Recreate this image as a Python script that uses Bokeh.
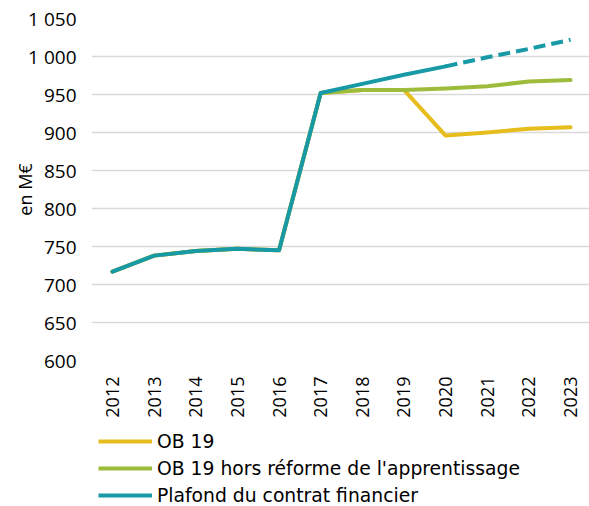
from bokeh.plotting import figure
from bokeh.models import Range1d, FixedTicker, Legend, LegendItem
from bokeh.layouts import column
from bokeh.embed import file_html
from bokeh.resources import INLINE

years = [2012, 2013, 2014, 2015, 2016, 2017, 2018, 2019, 2020, 2021, 2022, 2023]
ob19 = [717, 738, 744, 747, 745, 952, 956, 956, 896, 900, 905, 907]
ob19_hors = [717, 738, 744, 747, 745, 952, 956, 956, 958, 961, 967, 969]
plafond_years = [2012, 2013, 2014, 2015, 2016, 2017, 2018, 2019, 2020]
plafond = [717, 738, 744, 747, 745, 952, 964, 976, 987]
plafond_proj_years = [2020, 2021, 2022, 2023]
plafond_proj = [987, 999, 1010, 1022]
y_ticks = [600, 650, 700, 750, 800, 850, 900, 950, 1000, 1050]
y_tick_labels = ["600", "650", "700", "750", "800", "850", "900", "950", "1 000", "1 050"]
legend_labels = ["OB 19", "OB 19 hors réforme de l'apprentissage", "Plafond du contrat financier"]

YELLOW = "#E6BD1C"
GREEN = "#9DBC3B"
TEAL = "#1799A6"
TICK_FONT = "Open Sans"
LEG_FONT = "DejaVu Sans"
LW = 4

p = figure(width=589, height=420, output_backend="svg", toolbar_location=None,
           x_range=Range1d(2011.496, 2023.456), y_range=Range1d(600, 1050),
           min_border_left=91, min_border_right=0, min_border_top=18, min_border_bottom=59)
p.outline_line_color = None
p.background_fill_color = "white"

p.line(years, ob19, line_color=YELLOW, line_width=LW, line_join="round", line_cap="round")
p.line(years, ob19_hors, line_color=GREEN, line_width=LW, line_join="round", line_cap="round")
p.line(plafond_years, plafond, line_color=TEAL, line_width=LW, line_join="round", line_cap="round")
p.line(plafond_proj_years, plafond_proj, line_color=TEAL, line_width=LW, line_dash="12 6")

p.xaxis.ticker = FixedTicker(ticks=years)
p.xaxis.major_label_orientation = 1.5708
p.xaxis.major_label_text_font = TICK_FONT
p.xaxis.major_label_text_font_size = "18px"
p.xaxis.major_label_text_color = "#000000"
p.xaxis.major_tick_out = 0
p.xaxis.major_tick_in = 0
p.xaxis.major_label_standoff = 16
p.xaxis.axis_line_color = None
p.xaxis.major_tick_line_color = None
p.xaxis.minor_tick_line_color = None

p.yaxis.ticker = FixedTicker(ticks=y_ticks)
p.yaxis.major_label_overrides = {t: l for t, l in zip(y_ticks, y_tick_labels)}
p.yaxis.major_label_text_font = TICK_FONT
p.yaxis.major_label_text_font_size = "19px"
p.yaxis.major_label_text_color = "#000000"
p.yaxis.major_tick_out = 0
p.yaxis.major_tick_in = 0
p.yaxis.major_label_standoff = 15
p.yaxis.axis_line_color = None
p.yaxis.major_tick_line_color = None
p.yaxis.minor_tick_line_color = None
p.yaxis.axis_label = "en M€"
p.yaxis.axis_label_text_font = TICK_FONT
p.yaxis.axis_label_text_font_size = "18px"
p.yaxis.axis_label_text_font_style = "normal"
p.yaxis.axis_label_text_color = "#000000"
p.yaxis.axis_label_standoff = -12

p.xgrid.grid_line_color = None
p.ygrid.grid_line_color = "#D9D9D9"
p.ygrid.grid_line_width = 1.5

# legend panel: series lines drawn off-view, only their legend entries show
lg = figure(width=589, height=86, output_backend="svg", toolbar_location=None,
            x_range=Range1d(0, 1), y_range=Range1d(0, 1),
            min_border_left=91, min_border_right=0, min_border_top=0, min_border_bottom=0)
lg.axis.visible = False
lg.grid.visible = False
lg.outline_line_color = None
series = [ob19, ob19_hors, plafond]
series_x = [years, years, plafond_years]
colors = [YELLOW, GREEN, TEAL]
items = []
for lab, col, xs, ys in zip(legend_labels, colors, series_x, series):
    r = lg.line(xs, ys, line_color=col, line_width=LW)
    items.append(LegendItem(label=lab, renderers=[r]))
legend = Legend(items=items, location=(7, 0), orientation="vertical",
                glyph_width=54, glyph_height=22, label_height=22, spacing=5,
                label_standoff=5, padding=0, margin=0,
                label_text_font=LEG_FONT, label_text_font_size="18.75px",
                label_text_color="#000000",
                border_line_color=None, background_fill_alpha=0)
lg.add_layout(legend, "center")

open("out.html", "w").write(file_html(column(p, lg, spacing=0), INLINE))
